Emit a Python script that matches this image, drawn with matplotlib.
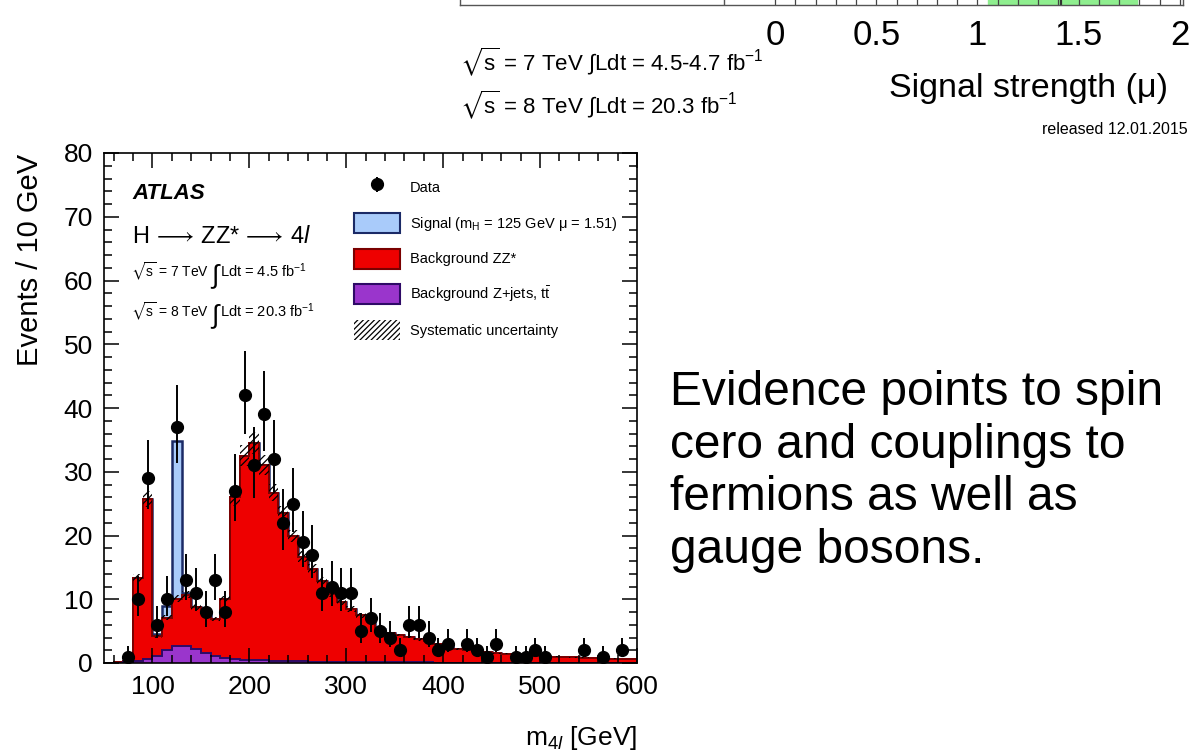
import numpy as np
import matplotlib
matplotlib.use('Agg')
import matplotlib.pyplot as plt
from matplotlib.patches import Patch

plt.rcParams['font.family'] = ['Liberation Sans', 'DejaVu Sans']
plt.rcParams['mathtext.fontset'] = 'custom'
plt.rcParams['mathtext.rm'] = 'Liberation Sans'
plt.rcParams['mathtext.it'] = 'Liberation Sans:italic'
plt.rcParams['mathtext.bf'] = 'Liberation Sans:bold'
plt.rcParams['mathtext.fallback'] = 'stixsans'
plt.rcParams['hatch.linewidth'] = 0.9

# ---------------- data ----------------
bin_edges = np.arange(50, 601, 10)          # m4l bins [GeV], 10 GeV wide
data_counts = [0, 0, 1, 10, 29, 6, 10, 37, 13, 11,
               8, 13, 8, 27, 42, 31, 39, 32, 22, 25,
               19, 17, 11, 12, 11, 11, 5, 7, 5, 4,
               2, 6, 6, 4, 2, 3, 0, 3, 2, 1,
               3, 0, 1, 1, 2, 1, 0, 0, 0, 2,
               0, 1, 0, 2, 0]
bkg_total = [0.05, 0.1, 0.3, 13.3, 25.7, 4.2, 7.1, 10.1, 10.7, 8.8,
             7.9, 6.9, 10.0, 26.0, 32.5, 34.5, 31.1, 26.7, 23.5, 19.9,
             16.7, 14.8, 12.8, 10.9, 9.5, 8.5, 7.5, 6.85, 5.4, 4.65,
             4.4, 4.1, 3.7, 3.45, 3.0, 2.45, 2.2, 2.1, 1.85, 1.7,
             1.55, 1.45, 1.35, 1.25, 1.15, 1.05, 1.0, 0.95, 0.9, 0.85,
             0.8, 0.75, 0.7, 0.65, 0.6]            # ZZ* + Z+jets
bkg_zjets = [0.02, 0.05, 0.1, 0.25, 0.6, 1.05, 2.0, 2.7, 2.6, 2.15,
             1.6, 1.15, 0.85, 0.6, 0.5, 0.45, 0.4, 0.35, 0.3, 0.27,
             0.24, 0.21, 0.19, 0.17, 0.15, 0.14, 0.13, 0.12, 0.11, 0.10,
             0.09, 0.09, 0.08, 0.08, 0.07, 0.07, 0.06, 0.06, 0.06, 0.05,
             0.05, 0.05, 0.05, 0.04, 0.04, 0.04, 0.04, 0.04, 0.03, 0.03,
             0.03, 0.03, 0.03, 0.03, 0.03]
signal = [0, 0, 0, 0, 0, 0.3, 1.9, 24.7, 0.3, 0,
          0, 0, 0, 0, 0, 0, 0, 0, 0, 0,
          0, 0, 0, 0, 0, 0, 0, 0, 0, 0,
          0, 0, 0, 0, 0, 0, 0, 0, 0, 0,
          0, 0, 0, 0, 0, 0, 0, 0, 0, 0,
          0, 0, 0, 0, 0]
syst_frac = 0.05

x_ticks = [100, 200, 300, 400, 500, 600]
y_ticks = [0, 10, 20, 30, 40, 50, 60, 70, 80]
mu_ticks = [0, 0.5, 1, 1.5, 2]
mu_tick_labels = ['0', '0.5', '1', '1.5', '2']
mu_band = (1.05, 1.79)
mu_central = 1.41

right_text = ["Evidence points to spin", "cero and couplings to",
              "fermions as well as", "gauge bosons."]

# ---------------- figure ----------------
W, H = 1190, 752
fig = plt.figure(figsize=(W / 100, H / 100), dpi=100)
fig.patch.set_facecolor('white')

def fx(px):
    return px / W

def fy(py):
    return 1 - py / H

RED, RED_E = '#EE0000', '#7A0000'
BLUE, BLUE_E = '#A9CBFA', '#1B2A66'
PURP, PURP_E = '#9A35CC', '#2E0A66'

ax = fig.add_axes([fx(104), fy(663), (637 - 104) / W, (663 - 153) / H])
edges = bin_edges
bkg_total_a = np.array(bkg_total)
sig_a = np.array(signal)
tot = bkg_total_a + sig_a

ax.stairs(tot, edges, fill=True, facecolor=BLUE, edgecolor=BLUE_E, linewidth=1.8)
ax.stairs(bkg_total_a, edges, fill=True, facecolor=RED, edgecolor=RED_E, linewidth=1.4)
ax.stairs(bkg_zjets, edges, fill=True, facecolor=PURP, edgecolor=PURP_E, linewidth=1.4)
ax.stairs(bkg_total_a * (1 + syst_frac), edges, baseline=bkg_total_a * (1 - syst_frac),
          fill=True, facecolor='none', edgecolor='black', hatch='/////', linewidth=0)

counts = np.array(data_counts, dtype=float)
centers = 0.5 * (edges[:-1] + edges[1:])
mask = counts > 0
err_hi = 0.5 + np.sqrt(counts + 0.25)
err_lo = np.sqrt(counts + 0.25) - 0.5
eb = ax.errorbar(centers[mask], counts[mask], yerr=[err_lo[mask], err_hi[mask]],
                 fmt='o', color='black', markersize=8.5, elinewidth=1.4, capsize=0)

ax.set_xlim(50, 600)
ax.set_ylim(0, 80)
ax.set_xticks(x_ticks)
ax.set_xticks(np.arange(60, 601, 20), minor=True)
ax.set_yticks(y_ticks)
ax.set_yticks(np.arange(0, 81, 2), minor=True)
ax.tick_params(which='both', direction='in', top=True, right=True, width=1.1,
               labelsize=19)
ax.tick_params(which='major', length=11)
ax.tick_params(which='minor', length=6)
ax.tick_params(axis='x', pad=9)
ax.tick_params(axis='y', pad=8)
for s in ax.spines.values():
    s.set_linewidth(1.2)

fig.text(fx(30), fy(154), 'Events / 10 GeV', rotation=90, ha='center', va='top', fontsize=21)
fig.text(fx(637), fy(745), r'm$_{4\mathit{l}}$ [GeV]', ha='right', va='baseline', fontsize=19)

# in-plot labels
fig.text(fx(132), fy(199), 'ATLAS', fontsize=16, fontweight='bold', fontstyle='italic',
         va='baseline')
fig.text(fx(132), fy(243), r'H$\,\longrightarrow\,$ZZ*$\,\longrightarrow\,$4$\mathit{l}$',
         fontsize=17, va='baseline')
for base, lumi_txt, rs in [(277, 'Ldt = 4.5 fb$^{-1}$', '7'), (317, 'Ldt = 20.3 fb$^{-1}$', '8')]:
    fig.text(fx(131), fy(base), r'$\sqrt{\rm s}$ = ' + rs + ' TeV', fontsize=10, va='baseline')
    fig.text(fx(210), fy(base + 6), r'$\int$', fontsize=19, va='baseline')
    fig.text(fx(220), fy(base), lumi_txt, fontsize=10.5, va='baseline')

handles = [eb,
           Patch(facecolor=BLUE, edgecolor=BLUE_E, linewidth=1.5),
           Patch(facecolor=RED, edgecolor=RED_E, linewidth=1.5),
           Patch(facecolor=PURP, edgecolor=PURP_E, linewidth=1.5),
           Patch(facecolor='white', edgecolor='black', hatch='//////', linewidth=0)]
labels = ['Data', 'Signal (m$_{\\rm H}$ = 125 GeV \u03bc = 1.51)', 'Background ZZ*',
          r'Background Z+jets, t$\bar{\rm t}$', 'Systematic uncertainty']
fig.legend(handles, labels, loc='upper left', bbox_to_anchor=(fx(354), fy(177)),
           frameon=False, fontsize=10.5, borderpad=0, borderaxespad=0,
           handlelength=3.15, handleheight=1.75, labelspacing=1.07, handletextpad=0.68)

# ---------------- top strip: bottom of signal-strength summary ----------------
ax2 = fig.add_axes([fx(460), fy(4.8), (1183 - 460) / W, 0.05])
ax2.set_xlim(-1.556, 2.015)
ax2.set_ylim(0, 1)
ax2.axvspan(mu_band[0], mu_band[1], color='#8FEE8F', zorder=0)
ax2.axvline(mu_central, color='#333333', linewidth=1.6)
ax2.axvline(-0.25, color='#555555', linewidth=1.0)
ax2.set_yticks([])
ax2.set_xticks(mu_ticks)
ax2.set_xticklabels(mu_tick_labels)
ax2.set_xticks(np.arange(0, 2.001, 0.1), minor=True)
ax2.tick_params(which='both', direction='in', length=30, width=0.9, colors='#444444',
                labelcolor='black', labelsize=25, pad=10)
ax2.spines['top'].set_visible(False)
for s in ['left', 'right', 'bottom']:
    ax2.spines[s].set_linewidth(1.0)
    ax2.spines[s].set_color('#555555')

fig.text(fx(1168), fy(97), 'Signal strength (\u03bc)', ha='right', va='baseline', fontsize=24.5)
fig.text(fx(1188), fy(134), 'released 12.01.2015', ha='right', va='baseline', fontsize=11.5)
fig.text(fx(460), fy(70), r'$\sqrt{\rm s}$ = 7 TeV $\int$Ldt = 4.5-4.7 fb$^{-1}$',
         va='baseline', fontsize=16)
fig.text(fx(460), fy(113), r'$\sqrt{\rm s}$ = 8 TeV $\int$Ldt = 20.3 fb$^{-1}$',
         va='baseline', fontsize=16)

# ---------------- right-hand text ----------------
for line, base in zip(right_text, [405, 458, 510, 563]):
    fig.text(fx(670), fy(base), line, fontsize=34.5, va='baseline', color='black')

fig.savefig('out.png', dpi=100, facecolor='white')
